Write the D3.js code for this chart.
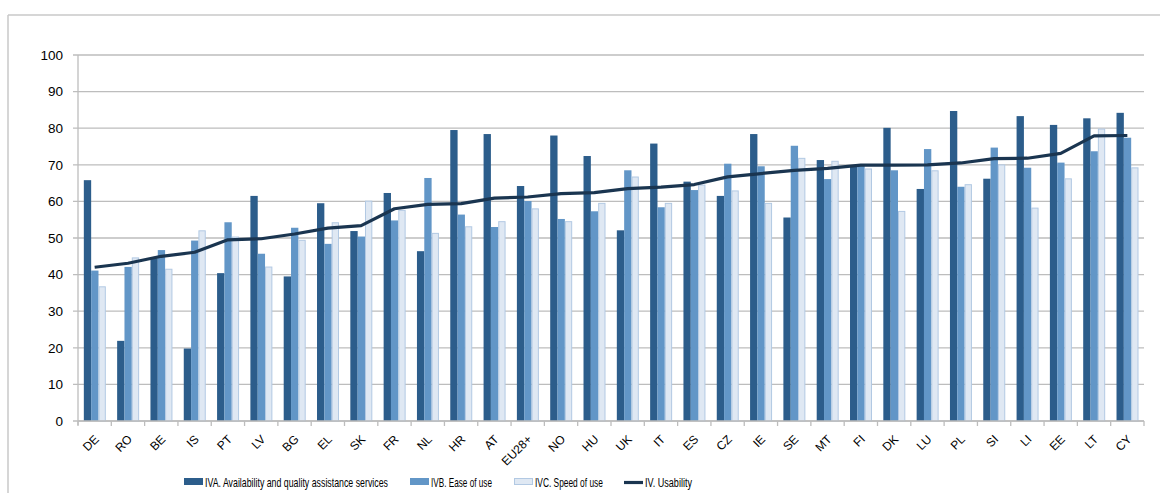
<!DOCTYPE html>
<html><head><meta charset="utf-8">
<script src="https://cdn.jsdelivr.net/npm/d3@7/dist/d3.min.js"></script>
<style>
html,body{margin:0;padding:0;background:#fff;}
svg{display:block;}
text{font-family:"Liberation Sans",Arial,sans-serif;fill:#000;}
</style></head>
<body>
<script>
const categories = ["DE","RO","BE","IS","PT","LV","BG","EL","SK","FR","NL","HR","AT","EU28+","NO","HU","UK","IT","ES","CZ","IE","SE","MT","FI","DK","LU","PL","SI","LI","EE","LT","CY"];
const ivaValues = [65.8,21.9,44.5,19.8,40.4,61.5,39.5,59.5,51.9,62.3,46.4,79.5,78.4,64.2,78.0,72.4,52.1,75.8,65.4,61.5,78.4,55.6,71.3,69.8,80.1,63.4,84.7,66.2,83.3,80.9,82.7,84.2];
const ivbValues = [41.1,42.1,46.7,49.3,54.3,45.7,52.8,48.4,50.4,54.8,66.4,56.4,53.0,60.1,55.2,57.3,68.5,58.4,63.1,70.3,69.6,75.2,66.1,70.0,68.5,74.3,64.0,74.7,69.2,70.6,73.7,77.4];
const ivcValues = [36.8,44.7,41.6,52.1,50.4,42.2,49.5,54.3,60.2,57.7,51.4,53.2,54.6,58.1,54.6,59.6,66.8,59.6,64.6,63.0,59.6,71.9,71.1,69.0,57.4,68.5,64.7,70.1,58.3,66.3,79.9,69.3];
const usabilityValues = [42.0,43.1,45.0,46.1,49.5,49.8,51.1,52.7,53.4,58.0,59.2,59.4,60.9,61.2,62.1,62.4,63.5,63.9,64.6,66.7,67.6,68.5,69.0,69.9,69.9,70.0,70.5,71.7,71.8,73.1,77.9,78.0];
const yTicks = [0,10,20,30,40,50,60,70,80,90,100];
const seriesNames = ["IVA. Availability and quality assistance services","IVB. Ease of use","IVC. Speed of use","IV. Usability"];
</script>
<script>
(function(){
const W = 1160, H = 493;
const svg = d3.select("body").append("svg").attr("width", W).attr("height", H);

// frame
svg.append("line").attr("x1",8).attr("x2",W).attr("y1",15).attr("y2",15).attr("stroke","#c8c8c8").attr("stroke-width",1.5);
svg.append("line").attr("x1",8).attr("x2",8).attr("y1",15).attr("y2",H).attr("stroke","#c8c8c8").attr("stroke-width",1.5);

const pl = 78, pr = 1144, pt = 55, pb = 421;
const y = d3.scaleLinear().domain([0,100]).range([pb, pt]);
const x = d3.scaleBand().domain(categories).range([pl, pr]).padding(0);
const bw = x.bandwidth();
const keys = ["a","b","c"];
const xs = d3.scaleBand().domain(keys).range([bw*0.175, bw*0.835]).padding(0);

// gridlines
svg.append("g").selectAll("line").data(yTicks).join("line")
  .attr("x1", pl-5).attr("x2", pr)
  .attr("y1", d=>y(d)).attr("y2", d=>y(d))
  .attr("stroke","#bdbdbd").attr("stroke-width",1.3);
// y axis line
svg.append("line").attr("x1",pl).attr("x2",pl).attr("y1",pt).attr("y2",pb+4).attr("stroke","#bdbdbd").attr("stroke-width",1.3);
// y labels
svg.append("g").selectAll("text").data(yTicks).join("text")
  .attr("x", 63).attr("y", d=>y(d)).attr("dy","0.36em")
  .attr("text-anchor","end").style("font-size","13.5px").text(d=>d);

// bars
const colors = {a:"#2c5d8b", b:"#6296c7", c:"#dfe8f3"};
const rows = categories.map((c,i)=>({cat:c, a:ivaValues[i], b:ivbValues[i], c:ivcValues[i]}));
const g = svg.append("g");
rows.forEach(r=>{
  keys.forEach(k=>{
    const rect = g.append("rect")
      .attr("x", x(r.cat)+xs(k)).attr("width", xs.bandwidth())
      .attr("y", y(r[k])).attr("height", y(0)-y(r[k]))
      .attr("fill", colors[k]);
    if(k==="c"){
      rect.attr("x", x(r.cat)+xs(k)+0.5).attr("width", xs.bandwidth()-1)
        .attr("y", y(r[k])+0.5).attr("height", y(0)-y(r[k])-0.5)
        .attr("stroke","#b2c9e3").attr("stroke-width",1);
    }
  });
});

// x axis
svg.append("line").attr("x1",pl).attr("x2",pr).attr("y1",pb).attr("y2",pb).attr("stroke","#bdbdbd").attr("stroke-width",1.3);
const bounds = categories.map(c=>x(c)).concat([pr]);
svg.append("g").selectAll("line").data(bounds).join("line")
  .attr("x1",d=>d).attr("x2",d=>d).attr("y1",pb).attr("y2",pb+5)
  .attr("stroke","#bdbdbd").attr("stroke-width",1.3);
svg.append("g").selectAll("text").data(categories).join("text")
  .attr("transform", d=>`translate(${x(d)+bw/2+5},${440}) rotate(-45)`)
  .attr("text-anchor","end").style("font-size","12px").text(d=>d);

// line
const line = d3.line().x((d,i)=>x(categories[i])+bw/2).y(d=>y(d));
svg.append("path").datum(usabilityValues).attr("d", line)
  .attr("fill","none").attr("stroke","#1a3550").attr("stroke-width",3.2).attr("stroke-linejoin","round");

// legend
const lg = svg.append("g");
const legendItems = [
  {sx:184, tx:205, tl:183, k:"a"},
  {sx:410, tx:431, tl:61, k:"b"},
  {sx:514, tx:535, tl:68, k:"c"},
  {sx:624, tx:645, tl:47, k:"l"}
];
legendItems.forEach((it,i)=>{
  if(it.k==="l"){
    lg.append("line").attr("x1",it.sx).attr("x2",it.sx+19).attr("y1",482.5).attr("y2",482.5).attr("stroke","#1a3550").attr("stroke-width",3.2);
  } else {
    const r = lg.append("rect").attr("x",it.sx).attr("y",478).attr("width",19).attr("height",7).attr("fill",colors[it.k]);
    if(it.k==="c") r.attr("x",it.sx+0.5).attr("y",478.5).attr("width",18).attr("height",6).attr("stroke","#b2c9e3");
  }
  const t = lg.append("text").attr("x",0).attr("y",0).attr("dy","0.36em")
    .style("font-size","12px").text(seriesNames[i]);
  const natural = t.node().getComputedTextLength();
  const sx = it.tl / natural;
  t.attr("transform", `translate(${it.tx},482.5) scale(${sx},1)`);
});
})();
</script>
</body></html>
